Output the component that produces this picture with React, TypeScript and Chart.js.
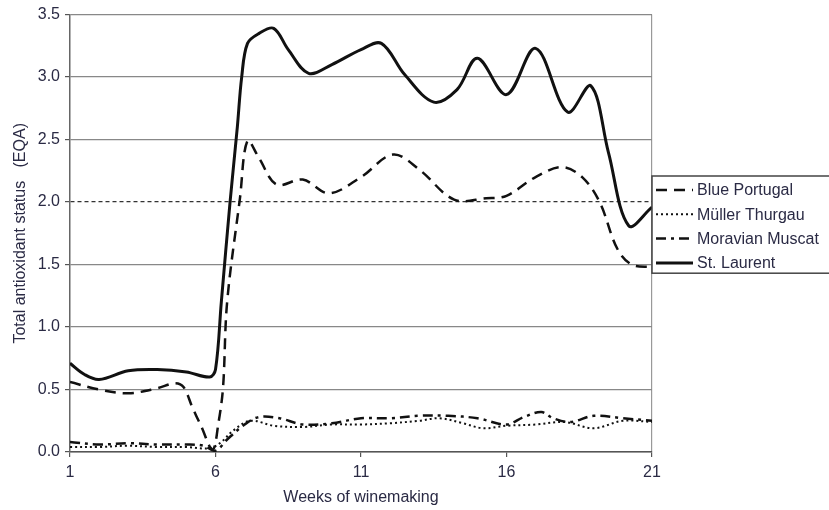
import { useEffect, useRef } from "react";
import { Chart, registerables } from "chart.js";

Chart.register(...registerables);

const seriesNames = ["Blue Portugal", "Müller Thurgau", "Moravian Muscat", "St. Laurent"];

const bluePortugalWeeks = [1, 2, 3, 4, 4.6, 4.9, 5.2, 5.5, 5.9, 6.1, 6.26, 6.4, 6.84, 7.1, 7.5, 8.1, 9.0, 9.9, 11, 12.1, 13, 14.2, 15.3, 16, 17, 17.9, 18.6, 19.2, 19.8, 20.3, 21];
const bluePortugalValues = [0.56, 0.5, 0.47, 0.51, 0.55, 0.52, 0.36, 0.21, 0.02, 0.23, 0.52, 1.2, 2.03, 2.49, 2.35, 2.14, 2.18, 2.07, 2.2, 2.38, 2.26, 2.02, 2.03, 2.05, 2.2, 2.28, 2.2, 2.0, 1.63, 1.5, 1.48];

const mullerWeeks = [1, 2, 3, 4, 5, 5.8, 6.2, 6.6, 7.2, 8, 9, 10, 11, 12, 13, 13.7, 14.5, 15.2, 16, 17, 18, 19, 20, 21];
const mullerValues = [0.04, 0.04, 0.05, 0.04, 0.04, 0.03, 0.08, 0.17, 0.25, 0.21, 0.2, 0.22, 0.22, 0.23, 0.25, 0.27, 0.23, 0.19, 0.21, 0.22, 0.24, 0.19, 0.25, 0.24];

const moravianWeeks = [1, 2, 3, 4, 5, 5.6, 6.0, 6.4, 7.0, 7.5, 8.2, 9, 10, 11, 12, 13, 14, 15, 16, 16.6, 17.2, 17.6, 18.2, 19, 20, 21];
const moravianValues = [0.08, 0.06, 0.07, 0.06, 0.06, 0.05, 0.01, 0.1, 0.22, 0.28, 0.27, 0.22, 0.23, 0.27, 0.27, 0.29, 0.29, 0.27, 0.22, 0.28, 0.32, 0.27, 0.24, 0.29, 0.27, 0.25];

const stLaurentWeeks = [1, 1.5, 2, 3, 4, 5, 5.8, 6.0, 6.2, 6.5, 6.75, 6.9, 7.1, 7.5, 8.0, 8.5, 9.2, 10, 11, 11.7, 12.5, 13.5, 14.3, 15, 16, 17, 18.1, 18.9, 19.5, 20.2, 21];
const stLaurentValues = [0.71, 0.62, 0.58, 0.65, 0.66, 0.64, 0.6, 0.66, 1.2, 2.0, 2.6, 3.0, 3.27, 3.35, 3.39, 3.22, 3.03, 3.1, 3.22, 3.27, 3.02, 2.8, 2.9, 3.15, 2.86, 3.23, 2.72, 2.93, 2.4, 1.81, 1.96];

const xTickValues = [1, 6, 11, 16, 21];
const yTickValues = [0, 0.5, 1, 1.5, 2, 2.5, 3, 3.5];

const FONT = "'Liberation Sans', Arial, sans-serif";
const TEXT = "#2a2a44";
const FS = 16;

const styles = [
  { width: 2.5, dash: [11, 7] },
  { width: 2, dash: [2, 3] },
  { width: 2.5, dash: [10, 5, 3, 5] },
  { width: 3, dash: [] as number[] },
];

function pts(w: number[], v: number[]) {
  return w.map((x, i) => ({ x, y: v[i] }));
}

const legendPlugin = {
  id: "boxLegend",
  afterDraw(chart: any) {
    const ctx = chart.ctx as CanvasRenderingContext2D;
    const left = chart.chartArea.right;
    const top = 176;
    const rowH = 24.3;
    ctx.save();
    ctx.strokeStyle = "#444";
    ctx.lineWidth = 1.5;
    ctx.fillStyle = "#fff";
    ctx.fillRect(left, top, 200, rowH * 4);
    ctx.strokeRect(left, top, 200, rowH * 4);
    chart.data.datasets.forEach((ds: any, i: number) => {
      const y = top + 14 + i * rowH;
      ctx.beginPath();
      ctx.setLineDash(ds.borderDash || []);
      ctx.lineWidth = ds.borderWidth;
      ctx.strokeStyle = ds.borderColor;
      ctx.moveTo(left + 4, y);
      ctx.lineTo(left + 41, y);
      ctx.stroke();
      ctx.setLineDash([]);
      ctx.fillStyle = TEXT;
      ctx.font = `${FS}px ${FONT}`;
      ctx.textBaseline = "middle";
      ctx.textAlign = "left";
      ctx.fillText(ds.label, left + 45, y + 1);
    });
    ctx.restore();
  },
};

export default function App() {
  const ref = useRef<HTMLCanvasElement | null>(null);
  useEffect(() => {
    if (!ref.current) return;
    const series = [
      pts(bluePortugalWeeks, bluePortugalValues),
      pts(mullerWeeks, mullerValues),
      pts(moravianWeeks, moravianValues),
      pts(stLaurentWeeks, stLaurentValues),
    ];
    const chart = new Chart(ref.current, {
      type: "line",
      data: {
        datasets: series.map((data, i) => ({
          label: seriesNames[i],
          data,
          borderColor: "#111",
          borderWidth: styles[i].width,
          borderDash: styles[i].dash,
          pointRadius: 0,
          fill: false,
          tension: 0.35,
          borderCapStyle: "butt" as const,
        })),
      },
      options: {
        animation: false,
        responsive: false,
        maintainAspectRatio: false,
        layout: { padding: { top: 10, right: 177, left: 0, bottom: 0 } },
        plugins: { legend: { display: false }, tooltip: { enabled: false } },
        scales: {
          x: {
            type: "linear",
            min: 1,
            max: 21,
            afterBuildTicks: (s: any) => {
              s.ticks = xTickValues.map((value) => ({ value }));
            },
            afterFit: (s: any) => {
              s.height = 58;
            },
            ticks: { color: TEXT, font: { family: FONT, size: FS }, padding: 6, maxRotation: 0 },
            grid: {
              color: (c: any) => (c.tick && c.tick.value === 21 ? "#999" : "rgba(0,0,0,0)"),
              tickColor: "#555",
              tickLength: 5,
              lineWidth: 1.2,
            },
            border: { color: "#555", width: 1.5 },
            title: {
              display: true,
              text: "Weeks of winemaking",
              color: TEXT,
              font: { family: FONT, size: FS },
              padding: { top: 0, bottom: 3 },
            },
          },
          y: {
            type: "linear",
            min: 0,
            max: 3.5,
            afterBuildTicks: (s: any) => {
              s.ticks = yTickValues.map((value) => ({ value }));
            },
            afterFit: (s: any) => {
              s.width = 70;
            },
            ticks: {
              color: TEXT,
              font: { family: FONT, size: FS },
              padding: 5,
              callback: (v: any) => Number(v).toFixed(1),
            },
            grid: {
              color: (c: any) => (c.tick && c.tick.value === 2 ? "#333" : "#888"),
              tickColor: "#555",
              tickLength: 5,
              lineWidth: 1.2,
            },
            border: {
              color: "#666",
              width: 1.5,
              dash: (c: any) => (c.tick && c.tick.value === 2 ? [4, 3] : []),
            },
            title: {
              display: true,
              text: "Total antioxidant status   (EQA)",
              color: TEXT,
              font: { family: FONT, size: FS },
              padding: { top: 11, bottom: 0 },
            },
          },
        },
      },
      plugins: [legendPlugin],
    } as any);
    return () => chart.destroy();
  }, []);
  return (
    <div style={{ position: "fixed", left: 0, top: 0, width: 829, height: 510, background: "#fff" }}>
      <canvas ref={ref} width={829} height={510} style={{ width: 829, height: 510 }} />
    </div>
  );
}
